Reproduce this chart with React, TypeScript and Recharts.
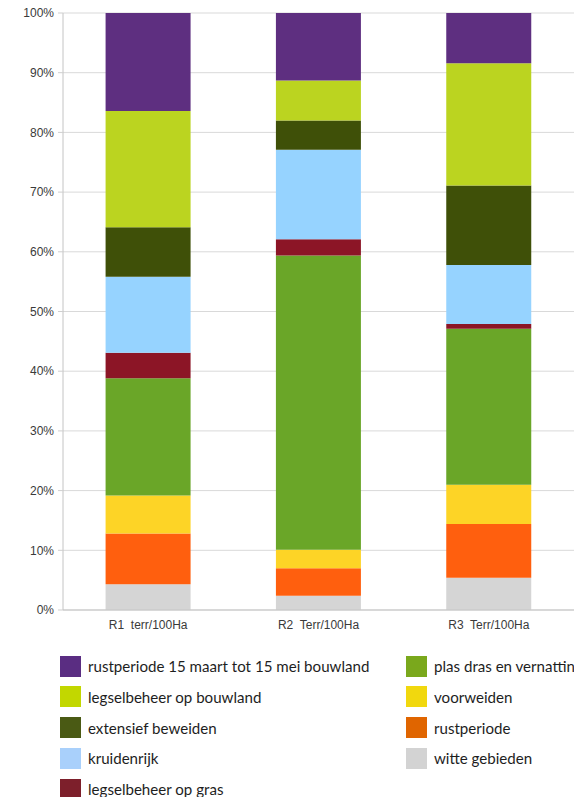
import { Bar, BarChart, CartesianGrid, XAxis, YAxis } from "recharts";

const categories = ["R1  terr/100Ha", "R2  Terr/100Ha", "R3  Terr/100Ha"];

// stack order, bottom to top
const witteGebieden = [4.3, 2.4, 5.4];
const rustperiode = [8.5, 4.6, 9.0];
const voorweiden = [6.4, 3.1, 6.6];
const plasDras = [19.6, 49.3, 26.1];
const legselGras = [4.3, 2.7, 0.8];
const kruidenrijk = [12.7, 15.0, 9.9];
const extensief = [8.3, 4.9, 13.3];
const legselBouwland = [19.5, 6.7, 20.5];
const rustBouwland = [16.4, 11.3, 8.4];

const yTicks = [0, 0.1, 0.2, 0.3, 0.4, 0.5, 0.6, 0.7, 0.8, 0.9, 1];

const series = [
  { key: "witte", label: "witte gebieden", values: witteGebieden, bar: "#d5d5d5", swatch: "#d3d3d3" },
  { key: "rust", label: "rustperiode", values: rustperiode, bar: "#ff5f0e", swatch: "#e06500" },
  { key: "voor", label: "voorweiden", values: voorweiden, bar: "#fdd426", swatch: "#f1d80e" },
  { key: "plas", label: "plas dras en vernatting", values: plasDras, bar: "#6aa628", swatch: "#7aa81c" },
  { key: "gras", label: "legselbeheer op gras", values: legselGras, bar: "#8c1526", swatch: "#7d1f2b" },
  { key: "kruiden", label: "kruidenrijk", values: kruidenrijk, bar: "#96d3ff", swatch: "#a9d0fb" },
  { key: "ext", label: "extensief beweiden", values: extensief, bar: "#3f5008", swatch: "#4a5a14" },
  { key: "bouw", label: "legselbeheer op bouwland", values: legselBouwland, bar: "#bbd420", swatch: "#c2d700" },
  { key: "rustb", label: "rustperiode 15 maart tot 15 mei bouwland", values: rustBouwland, bar: "#5e2f80", swatch: "#5a2d82" },
];

const legendLeft = ["rustb", "bouw", "ext", "kruiden", "gras"];
const legendRight = ["plas", "voor", "rust", "witte"];

const data = categories.map((name, i) => {
  const row: Record<string, string | number> = { name };
  series.forEach((s) => (row[s.key] = s.values[i]));
  return row;
});

const XTick = (props: any) => {
  const { x, y, payload } = props;
  return (
    <text x={x} y={y} dy={11} textAnchor="middle" fill="#3a3a3a" fontSize={12}
      fontFamily="'Liberation Sans', Arial, sans-serif" style={{ whiteSpace: "pre" }}>
      {payload.value}
    </text>
  );
};

const LegendColumn = ({ keys, left }: { keys: string[]; left: number }) => (
  <div style={{ position: "absolute", left, top: 656 }}>
    {keys.map((k) => {
      const s = series.find((x) => x.key === k)!;
      return (
        <div key={k} style={{ display: "flex", alignItems: "center", height: 20, marginBottom: 10.8, whiteSpace: "nowrap" }}>
          <div style={{ width: 21, height: 21, background: s.swatch, marginRight: 7 }} />
          <span style={{ fontFamily: "Lato, sans-serif", fontSize: 15.1, color: "#1e1e1e" }}>{s.label}</span>
        </div>
      );
    })}
  </div>
);

export default function App() {
  return (
    <div style={{ position: "absolute", left: 0, top: 0, width: 574, height: 797, overflow: "hidden", background: "#fff" }}>
      <BarChart width={574} height={640} data={data} stackOffset="expand" barCategoryGap="25%"
        margin={{ top: 13, right: 0, left: 0, bottom: 0 }}>
        <CartesianGrid vertical={false} stroke="#d9d9d9" />
        <XAxis dataKey="name" height={30} tick={<XTick />} tickLine={false} axisLine={{ stroke: "#c4c4c4" }} interval={0} />
        <YAxis width={63} domain={[0, 1]} ticks={yTicks} tickFormatter={(v: number) => `${Math.round(v * 100)}%`}
          tick={{ fill: "#3a3a3a", fontSize: 12, fontFamily: "'Liberation Sans', Arial, sans-serif" }}
          tickSize={5} tickMargin={4} tickLine={{ stroke: "#cfcfcf" }} axisLine={{ stroke: "#c4c4c4" }} />
        {series.map((s) => (
          <Bar key={s.key} dataKey={s.key} stackId="a" fill={s.bar} isAnimationActive={false} />
        ))}
      </BarChart>
      <LegendColumn keys={legendLeft} left={60} />
      <LegendColumn keys={legendRight} left={406} />
    </div>
  );
}
